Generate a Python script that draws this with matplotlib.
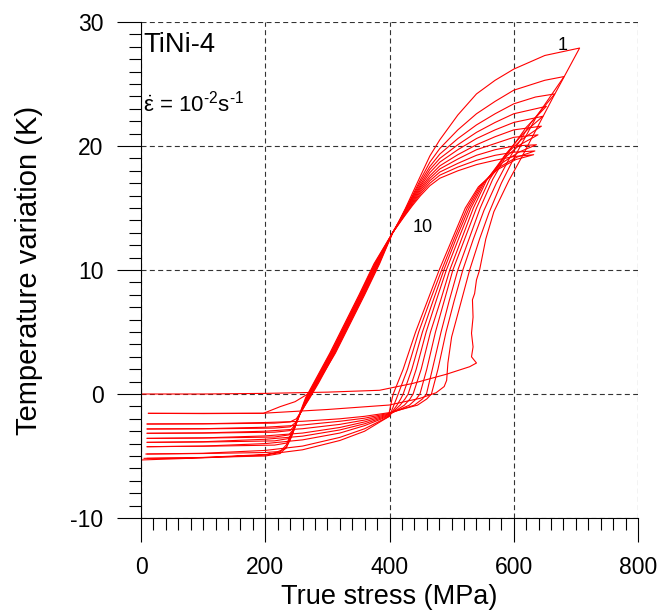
import numpy as np
import matplotlib.pyplot as plt
from matplotlib.ticker import MultipleLocator

plt.rcParams['font.family'] = 'Liberation Sans'
plt.rcParams['mathtext.fontset'] = 'custom'
plt.rcParams['mathtext.rm'] = 'Liberation Sans'
plt.rcParams['mathtext.it'] = 'Liberation Sans'
plt.rcParams['axes.unicode_minus'] = False

# loading branches, cycles 1..10 (stress MPa, temperature K)
load_stress = [
    [0, 100, 200, 300, 384, 438, 492, 529, 540, 532, 534.5, 532, 534.5, 533.5, 537, 540, 545, 555, 568, 592, 615, 640, 663, 706],
    [12, 100, 197, 300, 399.5, 449, 475, 488, 492, 494, 500, 514, 529, 545, 560, 580, 600, 637, 681],
    [10, 100, 200, 260, 320, 360, 400, 445, 460, 467.5, 478, 491, 504, 518, 535, 552, 572, 595, 628, 666],
    [10, 100, 200, 260, 320, 360, 400, 440, 453, 459.5, 469, 483, 496, 510, 528, 546, 566, 590, 620, 652.5],
    [10, 100, 200, 260, 320, 360, 400, 432, 443, 449, 460, 474, 488, 502, 521, 540, 561, 588, 615, 647],
    [10, 100, 200, 260, 320, 360, 400, 424, 433, 438, 451, 466, 482, 497, 516, 535, 556, 585, 612, 644.5],
    [10, 100, 200, 260, 320, 360, 400, 417, 425, 430, 443, 459, 475, 491.5, 511, 531, 552, 582, 610, 639],
    [10, 100, 200, 260, 320, 360, 400, 412, 418, 422, 436, 453, 470, 487.5, 507, 528, 549, 580, 608, 636.5],
    [10, 100, 200, 260, 320, 360, 400, 407, 411, 414, 429, 447, 465, 484, 504, 525, 546, 577, 605, 634],
    [10, 100, 200, 260, 320, 360, 398, 402, 404, 406, 422, 442, 461, 480, 501, 522, 543, 574, 603, 632],
]
load_temp = [
    [0.0, 0.0, 0.05, 0.15, 0.3, 0.86, 1.6, 2.2, 2.5, 3.0, 3.8, 4.9, 6.2, 7.6, 8.1, 9.2, 10.0, 12.5, 14.7, 17.2, 19.3, 21.7, 23.9, 27.9],
    [-1.56, -1.56, -1.55, -1.25, -0.89, -0.35, 0.1, 0.6, 1.1, 2.5, 4.6, 7.2, 10.0, 12.5, 14.6, 17.0, 19.0, 22.4, 25.6],
    [-2.42, -2.4, -2.3, -2.2, -2.0, -1.8, -1.5, -0.9, -0.4, 0.0, 2.0, 5.0, 7.5, 10.0, 12.5, 14.8, 17.0, 19.2, 21.9, 24.2],
    [-2.82, -2.8, -2.68, -2.5, -2.2, -1.95, -1.55, -0.9, -0.4, 0.0, 2.0, 5.0, 7.5, 10.0, 12.5, 15.0, 17.3, 19.4, 21.5, 23.2],
    [-3.17, -3.14, -3.0, -2.8, -2.45, -2.1, -1.6, -0.9, -0.4, 0.0, 2.0, 5.0, 7.5, 10.0, 12.5, 15.0, 17.3, 19.4, 21.0, 22.4],
    [-3.58, -3.54, -3.38, -3.15, -2.7, -2.25, -1.65, -0.9, -0.4, 0.0, 2.0, 5.0, 7.5, 10.0, 12.5, 15.0, 17.2, 19.2, 20.5, 21.6],
    [-3.9, -3.85, -3.65, -3.4, -2.9, -2.4, -1.7, -0.9, -0.4, 0.0, 2.0, 5.0, 7.5, 10.0, 12.5, 15.0, 17.0, 18.9, 20.1, 20.9],
    [-4.25, -4.2, -4.0, -3.7, -3.15, -2.55, -1.75, -0.9, -0.4, 0.0, 2.0, 5.0, 7.5, 10.0, 12.5, 15.0, 16.9, 18.6, 19.5, 20.1],
    [-4.84, -4.78, -4.55, -4.2, -3.5, -2.8, -1.8, -0.9, -0.4, 0.0, 2.0, 5.0, 7.5, 10.0, 12.5, 15.0, 16.8, 18.3, 19.1, 19.6],
    [-5.19, -5.12, -4.88, -4.5, -3.75, -3.0, -1.85, -0.9, -0.4, 0.0, 2.0, 5.0, 7.5, 10.0, 12.5, 15.0, 16.7, 18.1, 18.9, 19.3],
]

# unloading branches, cycles 1..10
unload_stress = [
    [706, 650, 600, 570, 540, 510, 481, 465, 450, 437, 425, 415, 405, 384, 360, 340, 313, 294, 270, 248, 224, 197, 100, 12],
    [681, 650, 600, 570, 540, 510, 481, 465, 450, 437, 425, 415, 405, 383, 359, 339, 312, 286, 272, 258, 250, 240, 215, 120, 10],
    [666, 635, 600, 570, 540, 510, 481, 465, 450, 437, 425, 415, 405, 382, 358, 338, 311, 285, 271, 257, 249, 240, 215, 120, 10],
    [652.5, 600, 570, 540, 510, 481, 465, 450, 437, 425, 415, 405, 381, 357, 337, 310, 284, 270, 257, 248, 240, 215, 120, 10],
    [647, 600, 570, 540, 510, 481, 465, 450, 437, 425, 415, 405, 380, 356, 336, 309, 283, 270, 256, 246, 238, 215, 120, 10],
    [644.5, 600, 570, 540, 510, 481, 465, 450, 437, 425, 415, 405, 379, 355, 335, 308, 282, 269, 256, 245, 237, 215, 120, 10],
    [639, 600, 570, 540, 510, 481, 465, 450, 437, 425, 415, 405, 378, 354, 334, 307, 281, 268, 255, 244, 235, 215, 120, 10],
    [636.5, 600, 570, 540, 510, 481, 465, 450, 437, 425, 415, 405, 377, 353, 333, 306, 280, 267, 254, 242, 233, 220, 200, 100, 8],
    [634, 600, 570, 540, 510, 481, 465, 450, 437, 425, 415, 405, 376, 352, 332, 305, 279, 266, 254, 242, 234, 224, 200, 100, 5],
    [632, 600, 570, 540, 510, 481, 465, 450, 437, 425, 415, 405, 375, 351, 331, 304, 278, 265, 253, 242, 234, 224, 200, 100, 0],
]
unload_temp = [
    [27.9, 27.3, 26.2, 25.3, 24.2, 22.5, 20.5, 19.2, 17.6, 16.2, 14.9, 13.9, 13.0, 10.5, 8.0, 6.0, 3.3, 1.7, 0.05, -0.62, -1.02, -1.56, -1.58, -1.56],
    [25.6, 25.3, 24.5, 23.6, 22.6, 21.3, 19.8, 18.7, 17.3, 16.0, 14.85, 13.9, 13.0, 10.5, 8.0, 6.0, 3.3, 0.9, -0.3, -1.4, -2.0, -2.25, -2.35, -2.4, -2.42],
    [24.2, 23.95, 23.4, 22.6, 21.7, 20.6, 19.35, 18.35, 17.1, 15.9, 14.8, 13.85, 13.0, 10.5, 8.0, 6.0, 3.3, 0.9, -0.3, -1.5, -2.3, -2.65, -2.75, -2.8, -2.82],
    [23.2, 22.6, 21.9, 21.1, 20.1, 19.0, 18.1, 16.9, 15.8, 14.75, 13.85, 13.0, 10.5, 8.0, 6.0, 3.3, 0.9, -0.3, -1.5, -2.5, -2.95, -3.08, -3.14, -3.17],
    [22.4, 21.9, 21.3, 20.6, 19.7, 18.7, 17.85, 16.75, 15.7, 14.7, 13.8, 13.0, 10.5, 8.0, 6.0, 3.3, 0.9, -0.3, -1.6, -2.8, -3.3, -3.47, -3.54, -3.58],
    [21.6, 21.3, 20.75, 20.1, 19.3, 18.4, 17.6, 16.6, 15.6, 14.65, 13.8, 13.0, 10.5, 8.0, 6.0, 3.3, 0.9, -0.3, -1.6, -3.0, -3.6, -3.78, -3.86, -3.9],
    [20.9, 20.7, 20.2, 19.7, 18.95, 18.15, 17.4, 16.45, 15.5, 14.6, 13.8, 13.0, 10.5, 8.0, 6.0, 3.3, 0.9, -0.3, -1.7, -3.2, -3.95, -4.12, -4.2, -4.25],
    [20.1, 20.0, 19.7, 19.25, 18.6, 17.9, 17.2, 16.3, 15.4, 14.5, 13.75, 13.0, 10.5, 8.0, 6.0, 3.3, 0.9, -0.3, -1.8, -3.5, -4.4, -4.65, -4.72, -4.8, -4.84],
    [19.6, 19.5, 19.25, 18.85, 18.3, 17.65, 17.0, 16.15, 15.3, 14.45, 13.75, 13.0, 10.5, 8.0, 6.0, 3.3, 0.9, -0.3, -1.8, -3.4, -4.3, -4.8, -5.0, -5.12, -5.19],
    [19.3, 19.15, 18.85, 18.5, 18.0, 17.4, 16.8, 16.0, 15.2, 14.4, 13.7, 13.0, 10.5, 8.0, 6.0, 3.3, 0.9, -0.3, -1.9, -3.2, -4.1, -4.65, -4.92, -5.15, -5.32],
]

fig = plt.figure(figsize=(6.58, 6.13), dpi=100)
ax = fig.add_axes([141/658, 1 - 518/613, 497/658, 496/613])

for ls, lt, us, ut in zip(load_stress, load_temp, unload_stress, unload_temp):
    ax.plot(ls + us, lt + ut, color='#ff0000', lw=0.8)

ax.set_xlim(0, 800)
ax.set_ylim(-10, 30)
ax.xaxis.set_major_locator(MultipleLocator(200))
ax.xaxis.set_minor_locator(MultipleLocator(20))
ax.yaxis.set_major_locator(MultipleLocator(10))
ax.yaxis.set_minor_locator(MultipleLocator(1))
ax.tick_params(which='major', direction='out', length=17, width=0.8, labelsize=16.5)
ax.tick_params(which='minor', direction='out', length=8.6, width=0.8)
ax.tick_params(axis='x', pad=10)
ax.tick_params(axis='y', pad=10)
ax.spines['top'].set_visible(False)
ax.spines['right'].set_visible(False)
ax.grid(True, which='major', color='#333333', linestyle=(0, (4.5, 3)), lw=0.8)

ax.set_xlabel('True stress (MPa)', fontsize=19.5, labelpad=4)
ax.set_ylabel('Temperature variation (K)', fontsize=21, labelpad=20)

ax.text(3.5, 27.6, 'TiNi-4', fontsize=19.7)
ax.text(4, 22.8, r'$\dot{\varepsilon}$ = 10$^{\text{-}2}$s$^{\text{-}1}$', fontsize=16)
ax.text(678, 28.1, '1', fontsize=13, ha='center', va='center')
ax.text(454, 13.4, '10', fontsize=13, ha='center', va='center')

fig.savefig('out.png', dpi=100)
